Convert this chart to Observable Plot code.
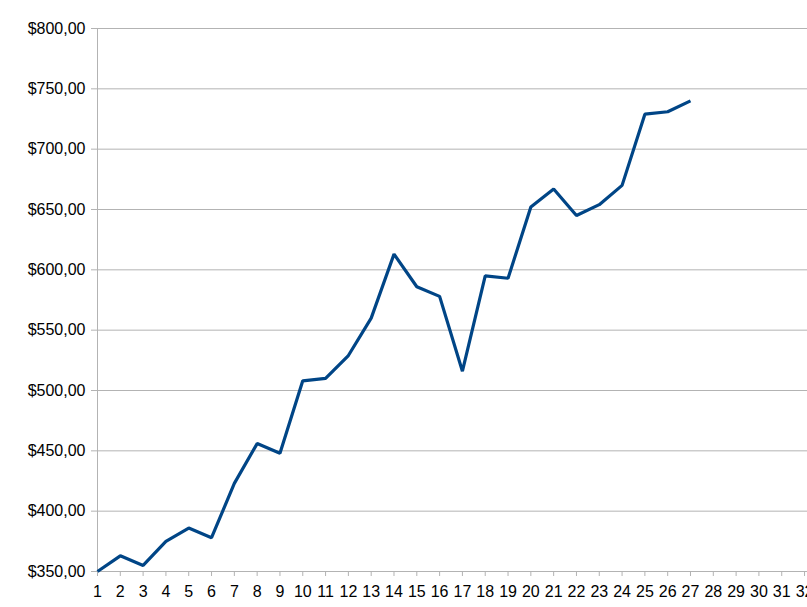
<!DOCTYPE html>
<html>
<head>
<meta charset="utf-8">
<script src="https://cdn.jsdelivr.net/npm/d3@7"></script>
<script src="https://cdn.jsdelivr.net/npm/@observablehq/plot@0.6"></script>
<style>
  html, body { margin: 0; padding: 0; background: #fff; }
  svg { display: block; }
</style>
</head>
<body>
<div id="chart"></div>
<script>
const days = [1,2,3,4,5,6,7,8,9,10,11,12,13,14,15,16,17,18,19,20,21,22,23,24,25,26,27];
const values = [350,363,355,375,386,378,423,456,448,508,510,529,560,613,586,578,516,595,593,652,667,645,654,670,729,731,740];
const xTicks = d3.range(1, 33);
const yTicks = [350,400,450,500,550,600,650,700,750,800];

const data = days.map((d, i) => ({day: d, value: values[i]}));
const locale = d3.formatLocale({decimal: ",", thousands: ".", grouping: [3], currency: ["$", ""]});
const fmt = locale.format("$.2f");

const chart = Plot.plot({
  width: 807,
  height: 607,
  marginLeft: 97,
  marginRight: 0,
  marginTop: 28,
  marginBottom: 36,
  style: {fontFamily: "'Liberation Sans', Arial, sans-serif", fontSize: "16px", color: "#000", background: "#fff"},
  x: {type: "linear", domain: [1, 32.13]},
  y: {domain: [350, 800]},
  marks: [
    Plot.gridY(yTicks, {stroke: "#b3b3b3", strokeOpacity: 1, strokeWidth: 1}),
    Plot.ruleX([1], {stroke: "#b3b3b3", strokeWidth: 1}),
    Plot.axisY(yTicks, {tickFormat: fmt, tickSize: 6, tickPadding: 6, stroke: "#b3b3b3", fill: "#000", label: null, fontSize: 16}),
    Plot.axisX(xTicks, {tickFormat: d => String(d), tickSize: 5, tickPadding: 9, stroke: "#b3b3b3", fill: "#000", label: null, fontSize: 16}),
    Plot.line(data, {x: "day", y: "value", stroke: "#004586", strokeWidth: 3.2, strokeLinejoin: "miter", strokeLinecap: "butt"})
  ]
});
document.getElementById("chart").appendChild(chart);
</script>
</body>
</html>
